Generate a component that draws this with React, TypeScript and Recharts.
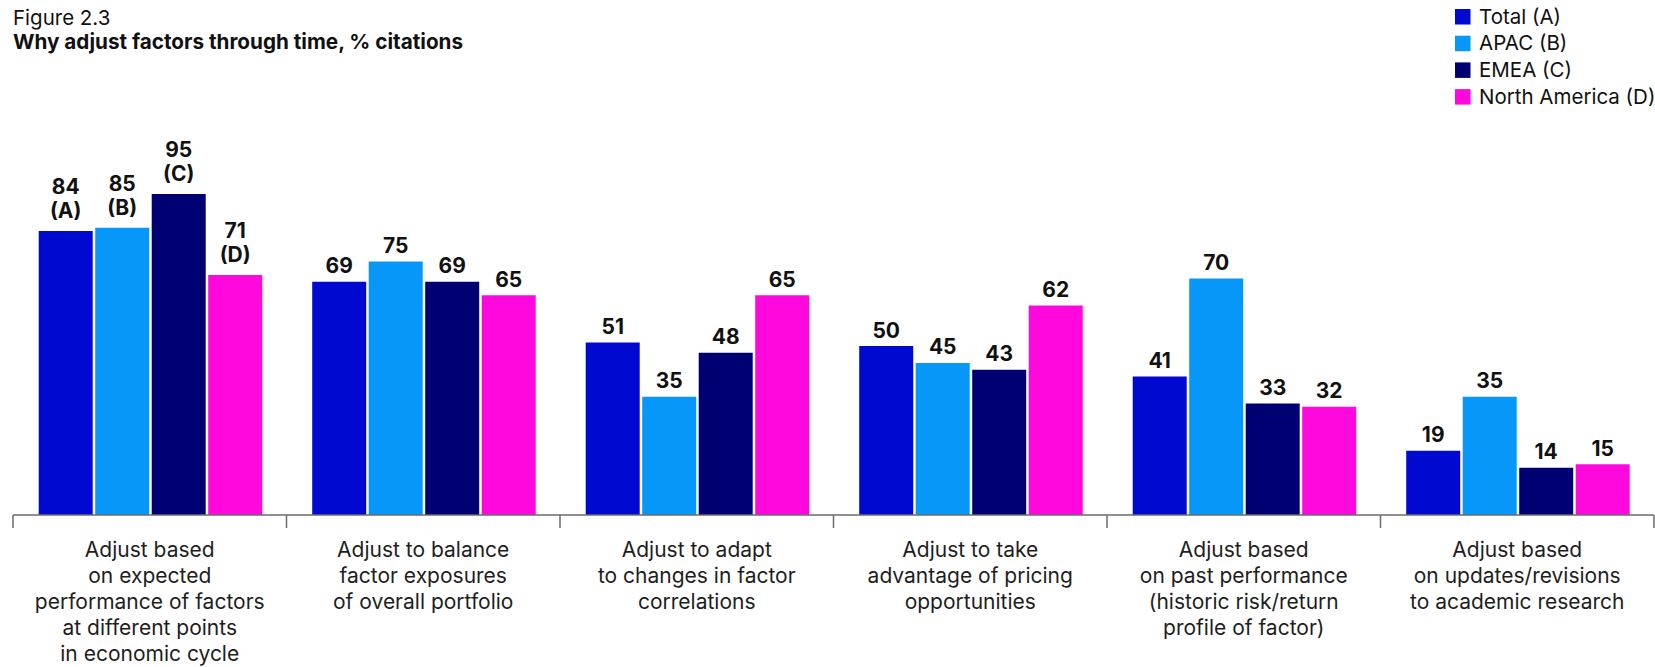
import React from 'react';
import { BarChart, Bar, XAxis, YAxis, LabelList } from 'recharts';

// categories use | as line break in the axis labels
const categories = [
  'Adjust based|on expected|performance of factors|at different points|in economic cycle',
  'Adjust to balance|factor exposures|of overall portfolio',
  'Adjust to adapt|to changes in factor|correlations',
  'Adjust to take|advantage of pricing|opportunities',
  'Adjust based|on past performance|(historic risk/return|profile of factor)',
  'Adjust based|on updates/revisions|to academic research',
];

const seriesKeys = ['total', 'apac', 'emea', 'northAmerica'];
const seriesNames = ['Total (A)', 'APAC (B)', 'EMEA (C)', 'North America (D)'];
const seriesLetters = ['(A)', '(B)', '(C)', '(D)'];
const seriesColors = ['#0009D0', '#0797F8', '#000072', '#FF08DE'];

const total = [84, 69, 51, 50, 41, 19];
const apac = [85, 75, 35, 45, 70, 35];
const emea = [95, 69, 48, 43, 33, 14];
const northAmerica = [71, 65, 65, 62, 32, 15];

const data = categories.map((name, i) => ({
  name,
  total: total[i],
  apac: apac[i],
  emea: emea[i],
  northAmerica: northAmerica[i],
}));

const FONT = 'Inter, "Noto Sans", sans-serif';

const CategoryTick = (props: any) => {
  const { x, y, payload, index } = props;
  const half = payload.offset || 136.7;
  const lines = String(payload.value).split('|');
  return (
    <g>
      <line x1={x - half} x2={x - half} y1={y} y2={y + 13} stroke="#6b6b6b" strokeWidth={1.5} />
      {index === categories.length - 1 && (
        <line x1={x + half} x2={x + half} y1={y} y2={y + 13} stroke="#6b6b6b" strokeWidth={1.5} />
      )}
      <text x={x} y={y + 42} textAnchor="middle" fontSize={21} fill="#1e1e1e" fontFamily={FONT}>
        {lines.map((l, i) => (
          <tspan key={i} x={x} dy={i === 0 ? 0 : 26}>
            {l}
          </tspan>
        ))}
      </text>
    </g>
  );
};

const makeValueLabel = (si: number) => (props: any) => {
  const { x, y, width, value, index } = props;
  const cx = x + width / 2;
  const style = { fontSize: 21, fontWeight: 700, fill: '#111', fontFamily: FONT };
  if (index === 0) {
    return (
      <text textAnchor="middle" {...style}>
        <tspan x={cx} y={y - 37}>{value}</tspan>
        <tspan x={cx} y={y - 13}>{seriesLetters[si]}</tspan>
      </text>
    );
  }
  return (
    <text x={cx} y={y - 8.5} textAnchor="middle" {...style}>
      {value}
    </text>
  );
};

export default function App() {
  return (
    <div style={{ position: 'absolute', left: 0, top: 0, width: 1655, height: 667, background: '#fff', fontFamily: FONT }}>
      <BarChart
        width={1655}
        height={667}
        data={data}
        margin={{ top: 177, right: 1, bottom: 12, left: 13 }}
        barCategoryGap="9.4%"
        barGap={2.5}
      >
        <XAxis
          dataKey="name"
          interval={0}
          height={140}
          tickLine={false}
          tickSize={0}
          tickMargin={0}
          axisLine={{ stroke: '#6b6b6b', strokeWidth: 1.5 }}
          tick={<CategoryTick />}
        />
        <YAxis hide domain={[0, 100]} />
        {seriesKeys.map((k, si) => (
          <Bar key={k} dataKey={k} fill={seriesColors[si]} isAnimationActive={false}>
            <LabelList dataKey={k} content={makeValueLabel(si)} />
          </Bar>
        ))}
      </BarChart>

      <svg width={1655} height={120} style={{ position: 'absolute', left: 0, top: 0, pointerEvents: 'none' }}>
        <text x={13} y={25} fontSize={20.5} fill="#111" fontFamily={FONT}>Figure 2.3</text>
        <text x={13} y={49} fontSize={20.7} fontWeight={700} fill="#111" fontFamily={FONT}>
          Why adjust factors through time, % citations
        </text>
        {seriesNames.map((n, i) => (
          <g key={n}>
            <rect x={1455} y={9 + i * 26.7} width={15.5} height={15.5} fill={seriesColors[i]} />
            <text x={1479} y={23.5 + i * 26.7} fontSize={20.5} fill="#111" fontFamily={FONT}>{n}</text>
          </g>
        ))}
      </svg>
    </div>
  );
}
